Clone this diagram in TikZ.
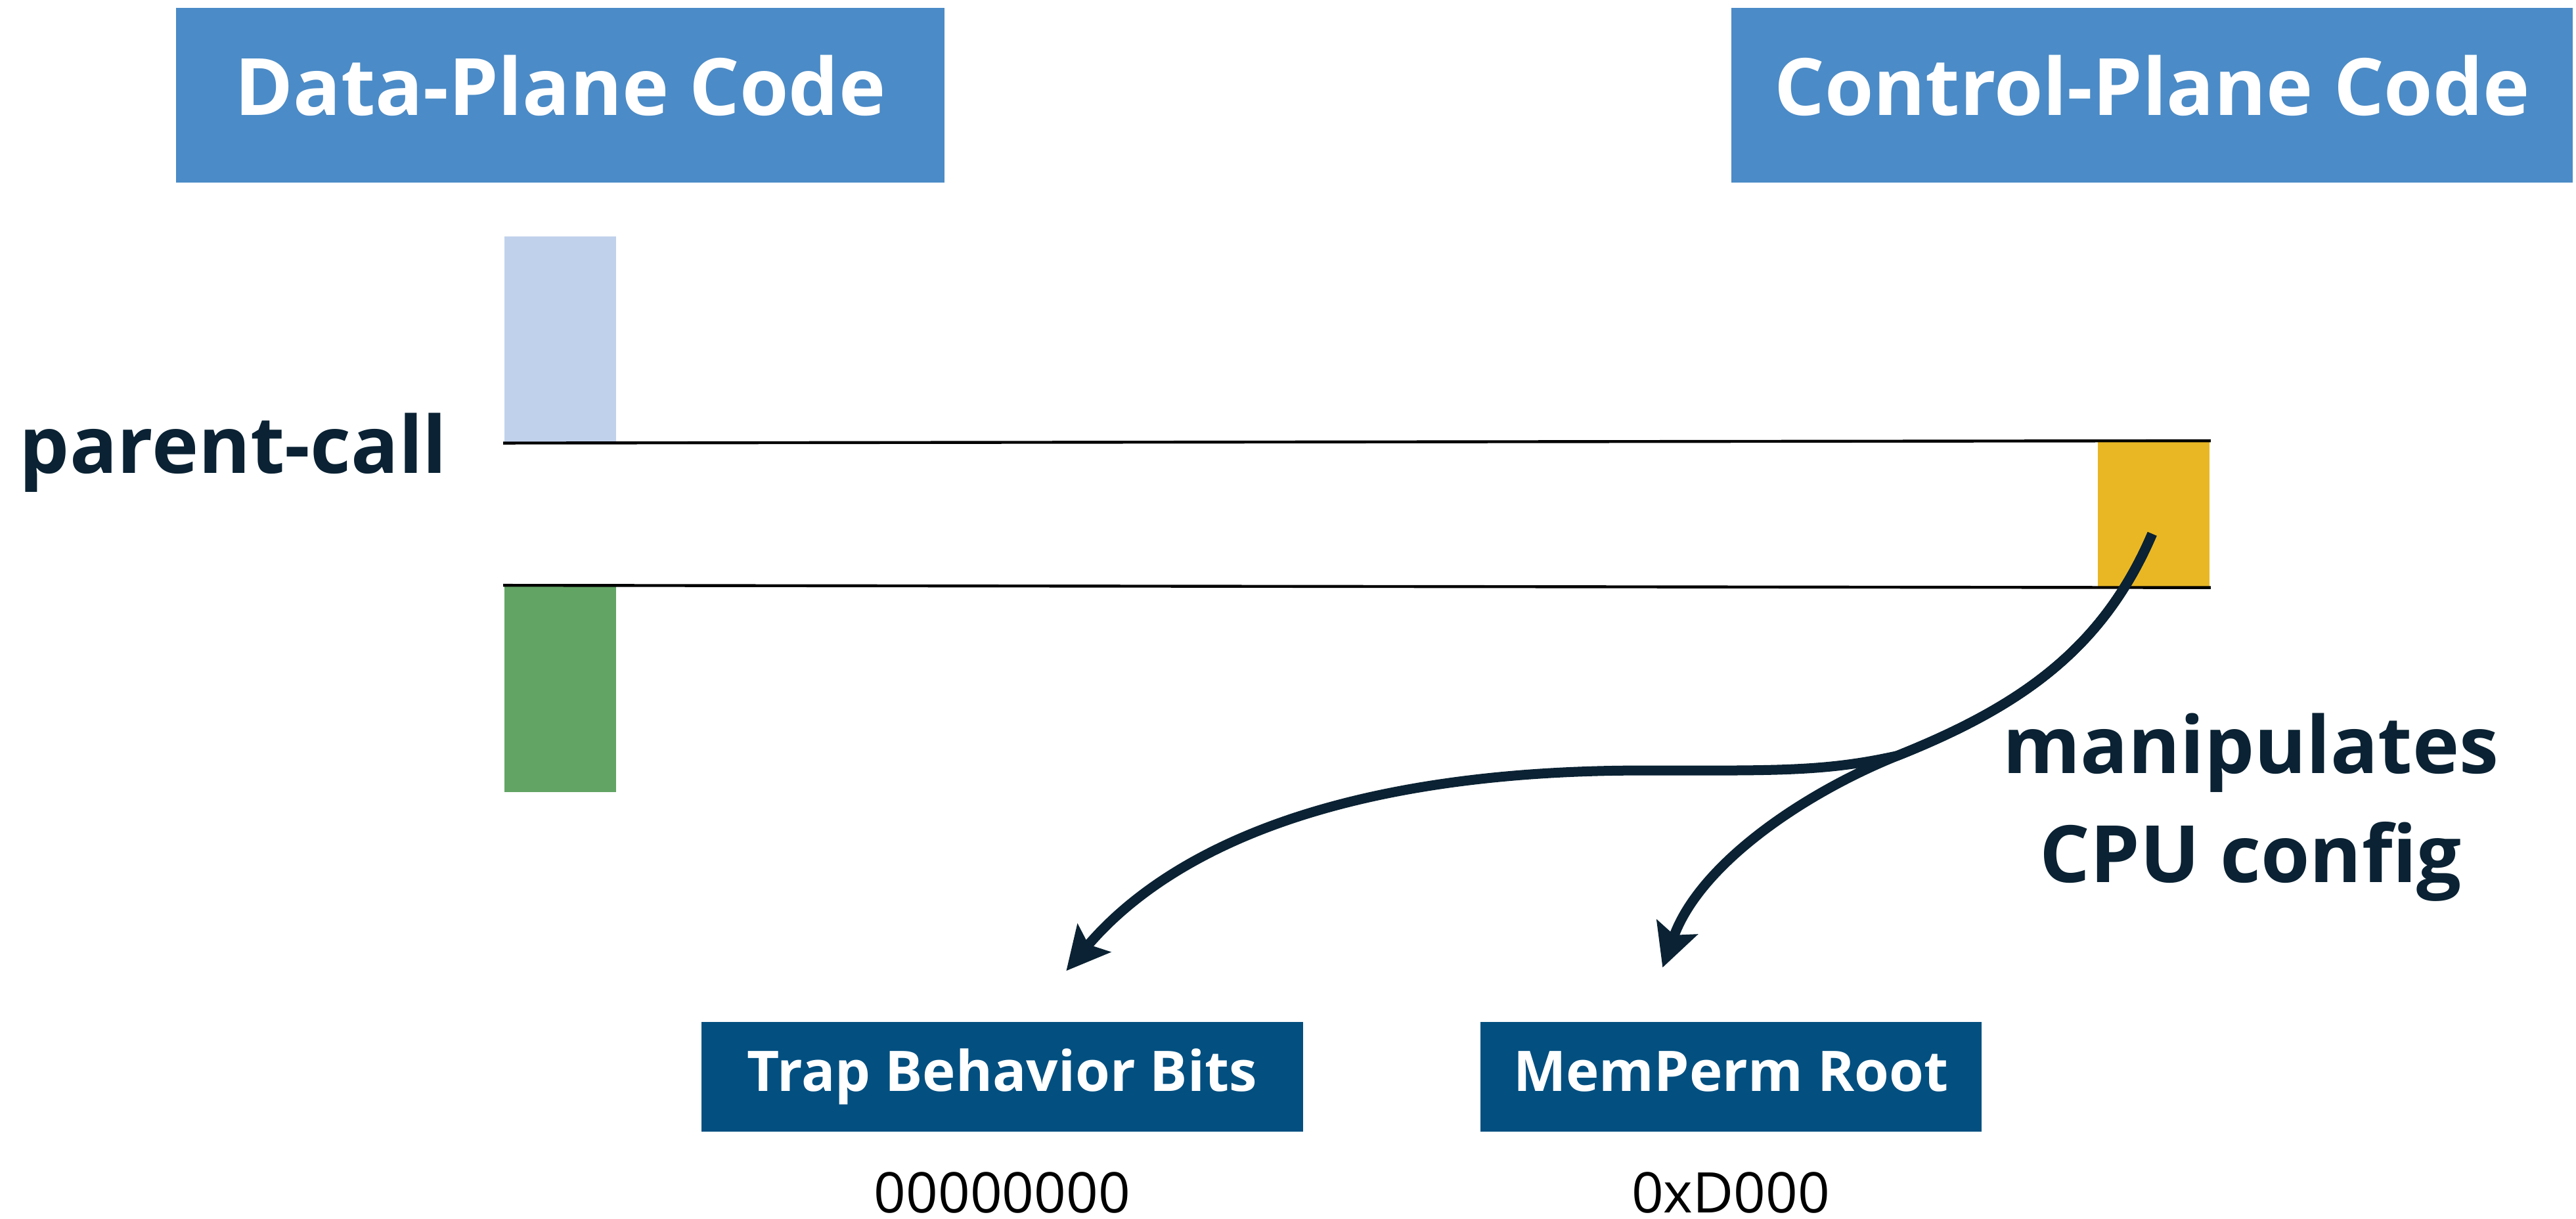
\documentclass[tikz,border=0pt]{standalone}
\usepackage{fontspec}
\setmainfont{Open Sans}
\usepackage{xcolor}
\usetikzlibrary{arrows.meta, positioning}

\definecolor{headblue}{HTML}{4B8BC7}
\definecolor{regblue}{HTML}{024F80}
\definecolor{inkdark}{HTML}{0A2233}
\definecolor{callblue}{HTML}{C0D1EC}
\definecolor{retgreen}{HTML}{62A464}
\definecolor{cfgyellow}{HTML}{E9B724}

\begin{document}
\begin{tikzpicture}[x=0.1mm, y=-0.1mm,
  header/.style={rectangle, fill=headblue, text=white, minimum height=10.6mm, inner sep=0pt,
    font=\fontsize{13.7}{17}\selectfont\bfseries, text height=0.75em, text depth=0.05em},
  slab/.style={rectangle, inner sep=0pt, minimum width=6.8mm},
  regbox/.style={rectangle, fill=regblue, text=white, minimum height=6.7mm, inner sep=0pt,
    font=\fontsize{9.7}{11}\selectfont\bfseries, text height=0.75em, text depth=0.25em},
  valtext/.style={font=\fontsize{9.7}{11}\selectfont, text=black, inner sep=0pt},
  bigtext/.style={font=\fontsize{13.7}{18.8}\selectfont\bfseries, text=inkdark, align=center},
  flow/.style={draw=inkdark, line width=0.6mm, -{Stealth[length=2.6mm, width=2.6mm, inset=0.5mm]}}]
\useasboundingbox (0,0) rectangle (1568,742);

\node (dataplane) [header, minimum width=46.8mm] at (341,58) {Data-Plane Code};
\node (ctrlplane) [header, minimum width=51.2mm] at (1310,58) {Control-Plane Code};

\node (callslab) [slab, fill=callblue, minimum height=12.5mm] at (341,206.5) {};
\node (retslab) [slab, fill=retgreen, minimum height=12.5mm] at (341,419.5) {};
\node (cfg) [slab, fill=cfgyellow, minimum height=8.8mm] at (1311,313) {};

\draw[line width=0.5pt] (callslab.south west) -- (cfg.north east);
\draw[line width=0.5pt] (retslab.north west) -- (cfg.south east);

\node (parentcall) [bigtext, anchor=base] at (142,288) {parent-call};
\node (manip) [bigtext, anchor=base] at (1370,537) {manipulates\\CPU config};

\node (trap) [regbox, minimum width=36.6mm] at (610,655.5) {Trap Behavior Bits};
\node (memperm) [regbox, minimum width=30.5mm] at (1053.5,655.5) {MemPerm Root};
\node (trapval) [valtext, below=2.3mm of trap] {00000000};
\node (permval) [valtext, below=2.3mm of memperm] {0xD000};

\coordinate (grip) at (1310,325);
\coordinate (fork) at (1155,460);
\coordinate (traptip) at (649,591);
\coordinate (permtip) at (1012,589);

\draw[flow] (grip) .. controls (1280,395) and (1230,430) .. (fork)
  .. controls (1110,470) and (1080,469) .. (1000,469)
  .. controls (800,469) and (705,525) .. (traptip);
\draw[flow] (grip) .. controls (1280,395) and (1230,430) .. (fork)
  .. controls (1100,482) and (1035,525) .. (permtip);
\end{tikzpicture}
\end{document}
